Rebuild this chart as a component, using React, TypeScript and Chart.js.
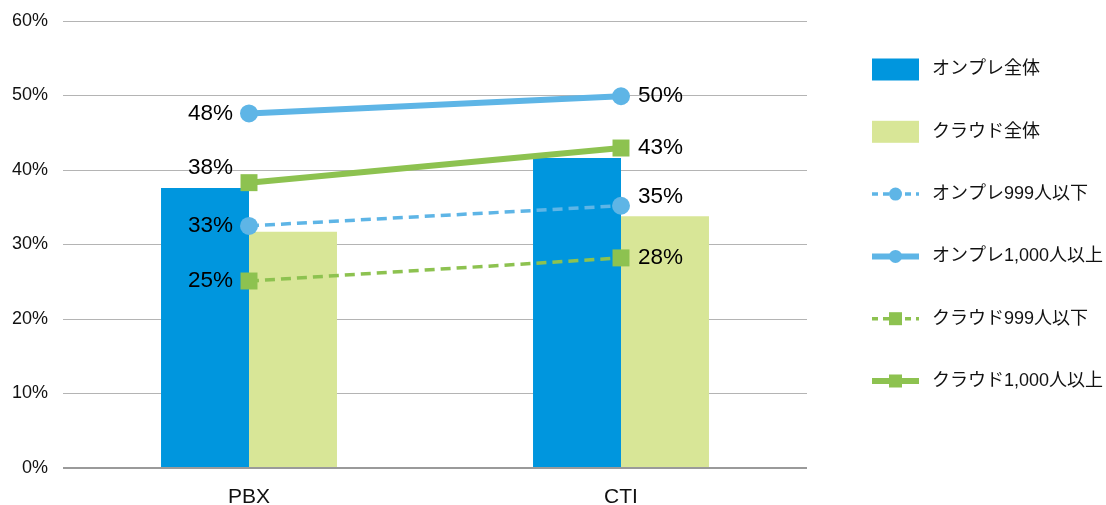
import React, { useEffect, useRef } from "react";
import { Chart, registerables } from "chart.js";

Chart.register(...registerables);

const categories = ["PBX", "CTI"];
const onpreAll = [37.6, 41.6];
const cloudAll = [31.7, 33.8];
const onpre999 = [32.5, 35.2];
const onpre1000 = [47.6, 49.9];
const cloud999 = [25.1, 28.2];
const cloud1000 = [38.3, 42.95];
const lineLabels = {
  onpre999: ["33%", "35%"],
  onpre1000: ["48%", "50%"],
  cloud999: ["25%", "28%"],
  cloud1000: ["38%", "43%"],
};
const yTicks = [0, 10, 20, 30, 40, 50, 60];

const BLUE_BAR = "rgb(0,150,222)";
const GREEN_BAR = "rgb(216,230,151)";
const BLUE_LINE = "rgb(94,181,230)";
const GREEN_LINE = "rgb(141,194,80)";
const FONT = '"Liberation Sans", Arial, "Noto Sans CJK JP", sans-serif';

const labelPlugin = {
  id: "lineLabels",
  afterDatasetsDraw(chart: any) {
    const ctx = chart.ctx;
    ctx.save();
    ctx.font = `22.5px ${FONT}`;
    ctx.fillStyle = "#000";
    ctx.textBaseline = "middle";
    chart.data.datasets.forEach((ds: any, di: number) => {
      if (!ds.valueLabels) return;
      const meta = chart.getDatasetMeta(di);
      meta.data.forEach((pt: any, i: number) => {
        const dy = (ds.labelDy && ds.labelDy[i]) || 0;
        if (i === 0) {
          ctx.textAlign = "right";
          ctx.fillText(ds.valueLabels[i], pt.x - 16, pt.y + dy);
        } else {
          ctx.textAlign = "left";
          ctx.fillText(ds.valueLabels[i], pt.x + 17, pt.y + dy);
        }
      });
    });
    ctx.restore();
  },
};

const legendPlugin = {
  id: "customLegend",
  afterDraw(chart: any) {
    const ctx = chart.ctx;
    ctx.save();
    const x0 = 872;
    const x1 = 919;
    const xm = (x0 + x1) / 2;
    chart.data.datasets.forEach((ds: any, i: number) => {
      const y = 69.5 + i * 62.3;
      if (ds.type === "bar") {
        ctx.fillStyle = ds.backgroundColor;
        ctx.fillRect(x0, y - 11, x1 - x0, 22);
      } else {
        ctx.strokeStyle = ds.borderColor;
        ctx.lineWidth = ds.borderDash ? 3.5 : 6;
        ctx.setLineDash(ds.borderDash ? [6, 5] : []);
        ctx.beginPath();
        ctx.moveTo(x0, y);
        ctx.lineTo(x1, y);
        ctx.stroke();
        ctx.setLineDash([]);
        ctx.fillStyle = ds.borderColor;
        if (ds.pointStyle === "rect") {
          ctx.fillRect(xm - 6.5, y - 6.5, 13, 13);
        } else {
          ctx.beginPath();
          ctx.arc(xm, y, 6.5, 0, Math.PI * 2);
          ctx.fill();
        }
      }
      ctx.fillStyle = "#111";
      ctx.font = `18px ${FONT}`;
      ctx.textAlign = "left";
      ctx.textBaseline = "middle";
      ctx.fillText(ds.label, 932, y);
    });
    ctx.restore();
  },
};

export default function App() {
  const ref = useRef<HTMLCanvasElement>(null);
  useEffect(() => {
    if (!ref.current) return;
    const chart = new Chart(ref.current, {
      data: {
        labels: categories,
        datasets: [
          {
            type: "bar",
            label: "オンプレ全体",
            data: onpreAll,
            backgroundColor: BLUE_BAR,
            order: 2,
            barPercentage: 1,
            categoryPercentage: 0.473,
          },
          {
            type: "bar",
            label: "クラウド全体",
            data: cloudAll,
            backgroundColor: GREEN_BAR,
            order: 2,
            barPercentage: 1,
            categoryPercentage: 0.473,
          },
          {
            type: "line",
            label: "オンプレ999人以下",
            data: onpre999,
            borderColor: BLUE_LINE,
            backgroundColor: BLUE_LINE,
            borderWidth: 3.5,
            borderDash: [10, 6],
            pointStyle: "circle",
            pointRadius: 9,
            pointBorderWidth: 0,
            order: 1,
            valueLabels: lineLabels.onpre999,
            labelDy: [0, -9],
          } as any,
          {
            type: "line",
            label: "オンプレ1,000人以上",
            data: onpre1000,
            borderColor: BLUE_LINE,
            backgroundColor: BLUE_LINE,
            borderWidth: 6,
            pointStyle: "circle",
            pointRadius: 9,
            pointBorderWidth: 0,
            order: 1,
            valueLabels: lineLabels.onpre1000,
            labelDy: [0, 0],
          } as any,
          {
            type: "line",
            label: "クラウド999人以下",
            data: cloud999,
            borderColor: GREEN_LINE,
            backgroundColor: GREEN_LINE,
            borderWidth: 3.5,
            borderDash: [10, 6],
            pointStyle: "rect",
            pointRadius: 12,
            pointBorderWidth: 0,
            order: 1,
            valueLabels: lineLabels.cloud999,
            labelDy: [0, 0],
          } as any,
          {
            type: "line",
            label: "クラウド1,000人以上",
            data: cloud1000,
            borderColor: GREEN_LINE,
            backgroundColor: GREEN_LINE,
            borderWidth: 6,
            pointStyle: "rect",
            pointRadius: 12,
            pointBorderWidth: 0,
            order: 1,
            valueLabels: lineLabels.cloud1000,
            labelDy: [-15, 0],
          } as any,
        ],
      },
      options: {
        animation: false,
        responsive: false,
        maintainAspectRatio: false,
        layout: { padding: { top: 21, right: 299, left: 0, bottom: 0 } },
        plugins: {
          legend: { display: false },
          tooltip: { enabled: false },
        },
        scales: {
          x: {
            grid: { display: false, drawTicks: false },
            border: { display: false },
            ticks: {
              color: "#111",
              font: { family: FONT, size: 21 },
              padding: 17,
            },
            afterFit(scale: any) {
              scale.height = 37;
              scale.paddingLeft = 0;
              scale.paddingRight = 0;
            },
          },
          y: {
            min: 0,
            max: 60,
            afterBuildTicks(scale: any) {
              scale.ticks = yTicks.map((v) => ({ value: v }));
            },
            grid: {
              drawTicks: false,
              color: (c: any) => (c.tick && c.tick.value === 0 ? "#9a9a9a" : "#b4b4b4"),
              lineWidth: (c: any) => (c.tick && c.tick.value === 0 ? 2 : 1),
            },
            border: { display: false },
            ticks: {
              color: "#111",
              font: { family: FONT, size: 18 },
              padding: 15,
              callback: (v: any) => `${v}%`,
            },
            afterFit(scale: any) {
              scale.width = 63;
              scale.paddingTop = 0;
              scale.paddingBottom = 0;
            },
          },
        },
      } as any,
      plugins: [labelPlugin, legendPlugin],
    });
    return () => chart.destroy();
  }, []);
  return (
    <div style={{ position: "fixed", left: 0, top: 0, width: 1106, height: 505, background: "#fff" }}>
      <canvas ref={ref} width={1106} height={505} style={{ width: 1106, height: 505 }} />
    </div>
  );
}
